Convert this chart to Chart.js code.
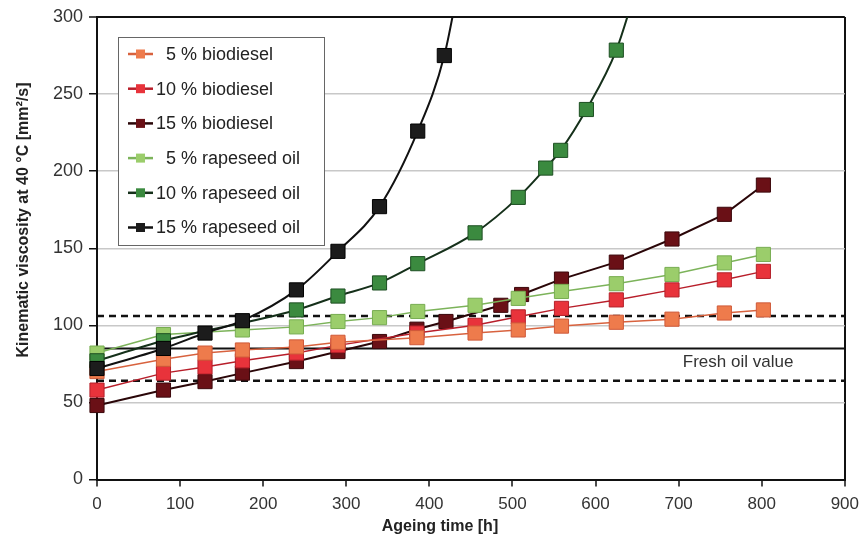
<!DOCTYPE html>
<html>
<head>
<meta charset="utf-8">
<script src="https://cdn.jsdelivr.net/npm/chart.js@4.4.1/dist/chart.umd.min.js"></script>
<style>
  html, body { margin: 0; padding: 0; background: #fff; }
  #wrap { width: 867px; height: 547px; position: relative; }
</style>
</head>
<body>
<div id="wrap"><canvas id="chart" width="867" height="547"></canvas></div>
<script>
// ageing time [h] and kinematic viscosity at 40 °C [mm²/s]
const bio5Time = [0, 80, 130, 175, 240, 290, 385, 455, 507, 559, 625, 692, 755, 802];
const bio5Visc = [70, 78, 82, 84, 86, 89, 92, 95, 97, 99.5, 102, 104, 108, 110];

const bio10Time = [0, 80, 130, 175, 240, 290, 385, 455, 507, 559, 625, 692, 755, 802];
const bio10Visc = [58, 69, 73, 77, 82, 87, 95, 100, 105.5, 111, 116.5, 123, 129.5, 135];

const bio15Time = [0, 80, 130, 175, 240, 290, 340, 385, 420, 486, 511, 559, 625, 692, 755, 802];
const bio15Visc = [48, 58, 63.5, 69, 76.5, 83, 89.5, 97.5, 102.5, 113, 120, 130, 141, 156, 172, 191];

const rape5Time = [0, 80, 175, 240, 290, 340, 386, 455, 507, 559, 625, 692, 755, 802];
const rape5Visc = [82, 94, 97, 99, 102.5, 105, 109, 113, 117.5, 122, 127, 133, 140.5, 146];

const rape10Time = [0, 80, 240, 290, 340, 386, 455, 507, 540, 558, 589, 625];
const rape10Visc = [77, 90, 110, 119, 127.5, 140, 160, 183, 202, 213.5, 240, 278.5];
// fitted curve keeps going above the plot after the last measurement
const rape10TailTime = [655];
const rape10TailVisc = [330];

const rape15Time = [0, 80, 130, 175, 240, 290, 340, 386, 418];
const rape15Visc = [72, 85, 95, 103, 123, 148, 177, 226, 275];
const rape15TailTime = [440];
const rape15TailVisc = [335];

const freshOil = 85;
const limitHigh = 106;
const limitLow = 64;

const xTicks = [0, 100, 200, 300, 400, 500, 600, 700, 800, 900];
const yTicks = [0, 50, 100, 150, 200, 250, 300];

const seriesLabels = ['\u20075 % biodiesel', '10 % biodiesel', '15 % biodiesel',
                      '\u20075 % rapeseed oil', '10 % rapeseed oil', '15 % rapeseed oil'];

function pts(t, v) { return t.map((x, i) => ({ x: x, y: v[i] })); }

function series(label, t, v, tailT, tailV, style) {
    const n = t.length;
    const data = pts(t, v).concat(tailT ? pts(tailT, tailV) : []);
    return {
        label: label,
        data: data,
        borderColor: style.line,
        borderWidth: style.width,
        backgroundColor: style.fill,
        pointStyle: 'rect',
        pointRadius: (c) => c.dataIndex < n ? 10 : 0,
        pointBackgroundColor: style.fill,
        pointBorderColor: style.edge,
        pointBorderWidth: 1,
        tension: style.smooth ? 0.4 : 0,
        cubicInterpolationMode: style.smooth ? 'monotone' : 'default',
        clip: { left: false, top: 0, right: false, bottom: false },
        order: style.order,
        legendLine: style.line,
        legendFill: style.fill
    };
}

function refLine(y, dashed, w) {
    return {
        label: '',
        data: [{ x: 0, y: y }, { x: 900, y: y }],
        borderColor: '#111',
        borderWidth: w,
        borderDash: dashed ? [7, 5] : [],
        pointRadius: 0,
        order: 20,
        isRef: true
    };
}

const datasets = [
    series(seriesLabels[0], bio5Time, bio5Visc, null, null, { line: '#d8623e', width: 1.5, fill: '#ee7b4c', edge: '#cf5a3a', order: 3 }),
    series(seriesLabels[1], bio10Time, bio10Visc, null, null, { line: '#b81e2a', width: 1.5, fill: '#e8333b', edge: '#b4202a', order: 4 }),
    series(seriesLabels[2], bio15Time, bio15Visc, null, null, { line: '#2a0608', width: 2, fill: '#6a1016', edge: '#3c080c', order: 5 }),
    series(seriesLabels[3], rape5Time, rape5Visc, null, null, { line: '#7cb35a', width: 1.5, fill: '#9bcd6b', edge: '#78ad52', order: 2 }),
    series(seriesLabels[4], rape10Time, rape10Visc, rape10TailTime, rape10TailVisc, { line: '#15301a', width: 2, fill: '#3b8a3f', edge: '#1d4f22', order: 1, smooth: true }),
    series(seriesLabels[5], rape15Time, rape15Visc, rape15TailTime, rape15TailVisc, { line: '#111111', width: 2, fill: '#1c1c1c', edge: '#000000', order: 0, smooth: true }),
    refLine(freshOil, false, 2),
    refLine(limitHigh, true, 2.5),
    refLine(limitLow, true, 2.5)
];

const extras = {
    id: 'extras',
    afterDatasetsDraw(chart) {
        const ctx = chart.ctx;
        const xs = chart.scales.x, ys = chart.scales.y;
        ctx.save();
        // fresh oil label
        ctx.font = '17px "Liberation Sans", Arial, sans-serif';
        ctx.fillStyle = '#333';
        ctx.textAlign = 'left';
        ctx.textBaseline = 'middle';
        ctx.fillText('Fresh oil value', xs.getPixelForValue(705), ys.getPixelForValue(freshOil) + 14);

        // legend box
        const bx = 118, by = 37, bw = 206, bh = 208;
        ctx.fillStyle = '#fff';
        ctx.fillRect(bx, by, bw, bh);
        ctx.strokeStyle = '#666';
        ctx.lineWidth = 1;
        ctx.strokeRect(bx + 0.5, by + 0.5, bw, bh);
        const sets = chart.data.datasets.filter(d => !d.isRef);
        ctx.font = '18px "Liberation Sans", Arial, sans-serif';
        sets.forEach((d, i) => {
            const cy = by + 17 + i * 34.7;
            ctx.strokeStyle = d.legendLine;
            ctx.lineWidth = 2.5;
            ctx.beginPath();
            ctx.moveTo(128, cy);
            ctx.lineTo(153, cy);
            ctx.stroke();
            ctx.fillStyle = d.legendFill;
            ctx.fillRect(136, cy - 4.5, 9, 9);
            ctx.fillStyle = '#222';
            ctx.textAlign = 'left';
            ctx.fillText(d.label, 156, cy + 1);
        });

        // axis titles
        ctx.fillStyle = '#222';
        ctx.font = 'bold 16px "Liberation Sans", Arial, sans-serif';
        ctx.textAlign = 'center';
        ctx.fillText('Ageing time [h]', 440, 527);
        ctx.translate(24, 220);
        ctx.rotate(-Math.PI / 2);
        ctx.fillText('Kinematic viscosity at 40 °C [mm²/s]', 0, 0);
        ctx.restore();
    }
};

new Chart(document.getElementById('chart'), {
    type: 'line',
    data: { datasets: datasets },
    options: {
        responsive: false,
        animation: false,
        layout: { padding: { top: 17, right: 20, left: 0, bottom: 0 } },
        plugins: {
            legend: { display: false },
            tooltip: { enabled: false }
        },
        scales: {
            x: {
                type: 'linear',
                min: 0, max: 900,
                afterFit: (s) => { s.height = 67.5; },
                afterBuildTicks: (s) => { s.ticks = xTicks.map(v => ({ value: v })); },
                ticks: { color: '#333', padding: 8, font: { size: 17, family: '"Liberation Sans", Arial, sans-serif' } },
                grid: {
                    color: (c) => c.tick && c.tick.value === 900 ? '#111' : 'rgba(0,0,0,0)',
                    lineWidth: 2,
                    tickColor: '#111',
                    tickLength: 7,
                    tickWidth: 1.5
                },
                border: { display: true, color: '#111', width: 2 }
            },
            y: {
                min: 0, max: 300,
                afterFit: (s) => { s.width = 97; },
                afterBuildTicks: (s) => { s.ticks = yTicks.map(v => ({ value: v })); },
                ticks: { color: '#333', padding: 6, font: { size: 18, family: '"Liberation Sans", Arial, sans-serif' } },
                grid: {
                    color: (c) => c.tick && c.tick.value === 300 ? '#111' : (c.tick && c.tick.value === 0 ? 'rgba(0,0,0,0)' : '#c8c8c8'),
                    lineWidth: (c) => c.tick && c.tick.value === 300 ? 2 : 1.5,
                    tickColor: '#111',
                    tickLength: 8,
                    tickWidth: 1.5
                },
                border: { display: true, color: '#111', width: 2 }
            }
        }
    },
    plugins: [extras]
});
</script>
</body>
</html>
